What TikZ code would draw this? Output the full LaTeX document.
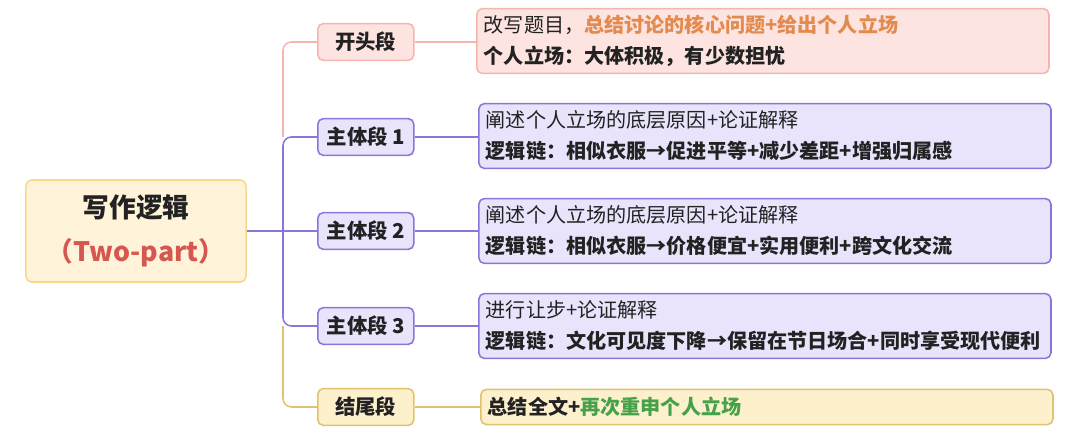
\documentclass[tikz,border=0pt]{standalone}
\usepackage{fontspec}
\setmainfont{Noto Sans CJK SC}
\usetikzlibrary{positioning}
\definecolor{pinkfill}{HTML}{FDE4E1}
\definecolor{pinkline}{HTML}{F5B5AF}
\definecolor{purpfill}{HTML}{E9E4FB}
\definecolor{purpline}{HTML}{8C74D8}
\definecolor{yelfill}{HTML}{FCF0CD}
\definecolor{yelline}{HTML}{E0C36C}
\definecolor{rootfill}{HTML}{FFF3DA}
\definecolor{rootline}{HTML}{F8D98C}
\definecolor{redtext}{HTML}{D65650}
\definecolor{orangetext}{HTML}{E38B4E}
\definecolor{greentext}{HTML}{47A14A}
\definecolor{darktext}{HTML}{222222}
\tikzset{
  box/.style={draw, rounded corners=4pt, line width=1.1pt, text=darktext},
  branch/.style={box, font=\bfseries\fontsize{14.5}{16}\selectfont, minimum height=0.92cm, minimum width=2.4cm, anchor=west, inner xsep=6pt, align=left},
  leaf/.style={box, font=\fontsize{14.3}{22}\selectfont, text width=13.95cm, minimum height=1.62cm, anchor=west, inner xsep=5pt, align=left},
  link/.style={line width=1.1pt, rounded corners=6pt}
}
\begin{document}
\begin{tikzpicture}[x=0.025cm, y=-0.025cm]
  \useasboundingbox (0,0) rectangle (1080,438);
  % root
  \node[box, draw=rootline, fill=rootfill, minimum width=5.5cm, minimum height=2.55cm, align=center,
        font=\bfseries\fontsize{19}{31}\selectfont] (root) at (136,231)
        {写作逻辑\\\textcolor{redtext}{（Two-part）}};
  % branches
  \node[branch, draw=pinkline, fill=pinkfill] (open) at (317,42) {开头段};
  \node[branch, draw=purpline, fill=purpfill] (body1) at (317,137) {主体段 1};
  \node[branch, draw=purpline, fill=purpfill] (body2) at (317,231) {主体段 2};
  \node[branch, draw=purpline, fill=purpfill] (body3) at (317,326) {主体段 3};
  \node[branch, draw=yelline, fill=yelfill] (close) at (317,407) {结尾段};
  % leaves
  \node[leaf, draw=pinkline, fill=pinkfill] (leafopen) at (476,41)
    {改写题目，\textcolor{orangetext}{\bfseries 总结讨论的核心问题+给出个人立场}\\\textbf{个人立场：大体积极，有少数担忧}};
  \node[leaf, draw=purpline, fill=purpfill] (leafbody1) at (478,136)
    {阐述个人立场的底层原因+论证解释\\\textbf{逻辑链：相似衣服→促进平等+减少差距+增强归属感}};
  \node[leaf, draw=purpline, fill=purpfill] (leafbody2) at (478,231)
    {阐述个人立场的底层原因+论证解释\\\textbf{逻辑链：相似衣服→价格便宜+实用便利+跨文化交流}};
  \node[leaf, draw=purpline, fill=purpfill] (leafbody3) at (478,326)
    {进行让步+论证解释\\\textbf{逻辑链：文化可见度下降→保留在节日场合+同时享受现代便利}};
  \node[leaf, draw=yelline, fill=yelfill, minimum height=0.88cm] (leafclose) at (480,407)
    {\textbf{总结全文+\textcolor{greentext}{再次重申个人立场}}};
  % trunk
  \coordinate (trunk) at (283,231);
  \draw[link, purpline] (root.east) -- (trunk);
  \draw[link, pinkline] (trunk |- body1.west) -- (trunk |- open.west) -- (open.west);
  \draw[link, purpline] (body1.west) -- (trunk |- body1.west) -- (trunk |- body3.west) -- (body3.west);
  \draw[link, purpline] (trunk) -- (body2.west);
  \draw[link, yelline] (trunk |- body3.west) -- (trunk |- close.west) -- (close.west);
  % links to leaves
  \draw[link, pinkline] (open.east) -- (leafopen.west |- open.east);
  \draw[link, purpline] (body1.east) -- (leafbody1.west |- body1.east);
  \draw[link, purpline] (body2.east) -- (leafbody2.west |- body2.east);
  \draw[link, purpline] (body3.east) -- (leafbody3.west |- body3.east);
  \draw[link, yelline] (close.east) -- (leafclose.west |- close.east);
\end{tikzpicture}
\end{document}
